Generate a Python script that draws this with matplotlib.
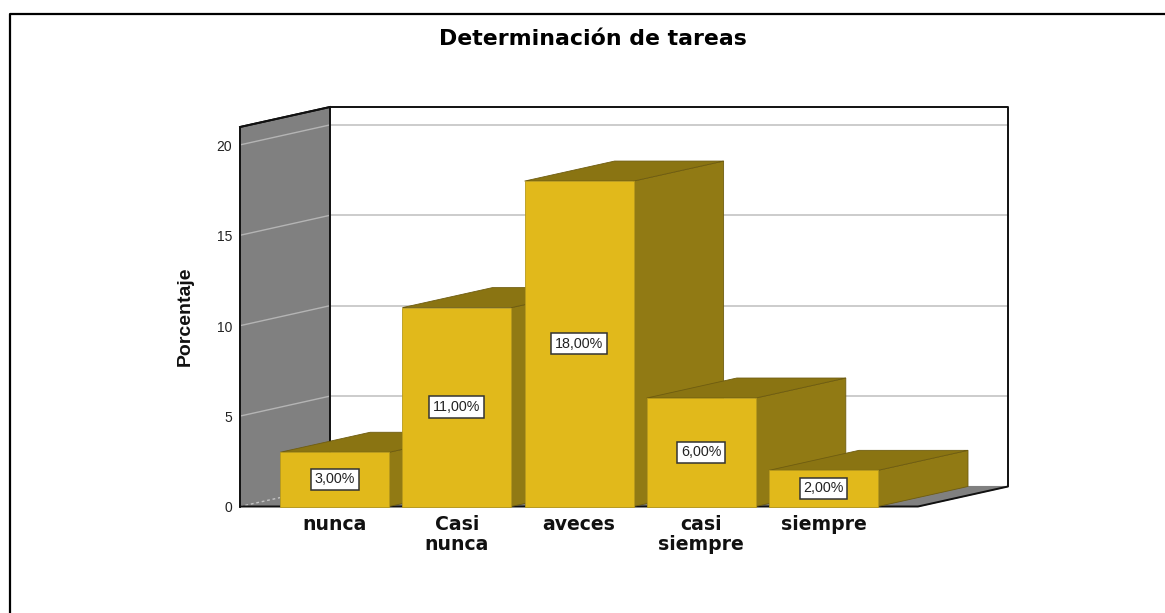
import matplotlib
matplotlib.use("Agg")
import matplotlib.pyplot as plt
from matplotlib.patches import Polygon

plt.rcParams['font.family'] = ['Liberation Sans', 'DejaVu Sans']

categories = ["nunca", "Casi\nnunca", "aveces", "casi\nsiempre", "siempre"]
values = [3, 11, 18, 6, 2]
value_labels = ["3,00%", "11,00%", "18,00%", "6,00%", "2,00%"]
y_ticks = [0, 5, 10, 15, 20]

W, H = 1165, 613
UX = 122.2   # px per category
UY = 18.08   # px per percent
X0 = 334.7   # px of first bar centre
Y0 = 506.5   # px of zero line

DX = 90 / UX   # depth of the 3d box
DY = 20 / UY
BAR_W = 109 / UX
LEFT = (240 - X0) / UX
RIGHT = (918 - X0) / UX
TOP = (Y0 - 127) / UY

GOLD = "#E1B91B"
GOLD_TOP = "#8A7412"
GOLD_SIDE = "#917A14"
GRAY = "#808080"


def poly(ax, pts, color, edge=None, lw=0.8, z=1):
    ax.add_patch(Polygon(pts, closed=True, facecolor=color,
                         edgecolor=edge if edge else color, linewidth=lw, zorder=z))


fig = plt.figure(figsize=(W / 100, H / 100), dpi=100, facecolor="white")
ax = fig.add_axes([0, 0, 1, 1])
ax.set_xlim(-X0 / UX, (W - X0) / UX)
ax.set_ylim(-(H - Y0) / UY, Y0 / UY)
ax.axis("off")

# back wall, floor, side wall
poly(ax, [(LEFT + DX, DY), (RIGHT + DX, DY), (RIGHT + DX, TOP + DY), (LEFT + DX, TOP + DY)], "white", z=1)
poly(ax, [(LEFT, 0), (LEFT + DX, DY), (RIGHT + DX, DY), (RIGHT, 0)], GRAY, z=1)
poly(ax, [(LEFT, 0), (LEFT + DX, DY), (LEFT + DX, TOP + DY), (LEFT, TOP)], GRAY, z=1)

for t in y_ticks[1:]:
    ax.plot([LEFT + DX, RIGHT + DX], [t + DY, t + DY], color="#C4C4C4", lw=1.2, zorder=2)
    ax.plot([LEFT, LEFT + DX], [t, t + DY], color="#B4B4B4", lw=1.0, zorder=2)
ax.plot([LEFT, LEFT + DX], [0, DY], color="#C4C4C4", lw=1.0, ls=(0, (2, 2)), zorder=2)

# outlines
ax.plot([LEFT, LEFT, LEFT + DX, RIGHT + DX, RIGHT + DX, RIGHT, LEFT],
        [0, TOP, TOP + DY, TOP + DY, DY, 0, 0], color="#111111", lw=1.4, zorder=3)
ax.plot([LEFT + DX, LEFT + DX], [DY, TOP + DY], color="#111111", lw=1.4, zorder=3)
ax.plot([LEFT, LEFT + DX], [TOP, TOP + DY], color="#111111", lw=1.4, zorder=3)

# bars, left to right so each one covers the side of the previous
for i, (v, lab) in enumerate(zip(values, value_labels)):
    l, r = i - BAR_W / 2, i + BAR_W / 2
    z = 4 + i
    poly(ax, [(r, 0), (r + DX, DY), (r + DX, v + DY), (r, v)], GOLD_SIDE, edge="#6E5C10", lw=0.6, z=z)
    poly(ax, [(l, v), (l + DX, v + DY), (r + DX, v + DY), (r, v)], GOLD_TOP, edge="#6E5C10", lw=0.6, z=z)
    poly(ax, [(l, 0), (r, 0), (r, v), (l, v)], GOLD, edge="#B89A1C", lw=0.6, z=z)
    ax.text(i, v / 2, lab, ha="center", va="center", fontsize=10.3, color="#222222", zorder=20,
            bbox=dict(boxstyle="square,pad=0.26", facecolor="white", edgecolor="#333333", linewidth=1.1))

for t in y_ticks:
    ax.text(LEFT - 8 / UX, t - 2 / UY, str(t), ha="right", va="center", fontsize=10, color="#222222")

for i, c in enumerate(categories):
    ax.text(i, -9 / UY, c, ha="center", va="top", fontsize=13.6, fontweight="bold",
            family="DejaVu Sans", color="#111111", linespacing=1.0)

ax.text((185 - X0) / UX, (Y0 - 316.5) / UY, "Porcentaje", rotation=90, ha="center", va="center",
        fontsize=14, fontweight="bold", color="#111111")
fig.text(592.5 / W, 1 - 39 / H, "Determinación de tareas", ha="center", va="center",
         fontsize=15.8, fontweight="bold", family="DejaVu Sans", color="black")

# outer frame: only top and left are visible
fig.add_artist(plt.Line2D([10 / W, 10 / W, 1], [0, 1 - 13.5 / H, 1 - 13.5 / H],
                          color="black", lw=1.6, transform=fig.transFigure))

fig.savefig("out.png", dpi=100)
